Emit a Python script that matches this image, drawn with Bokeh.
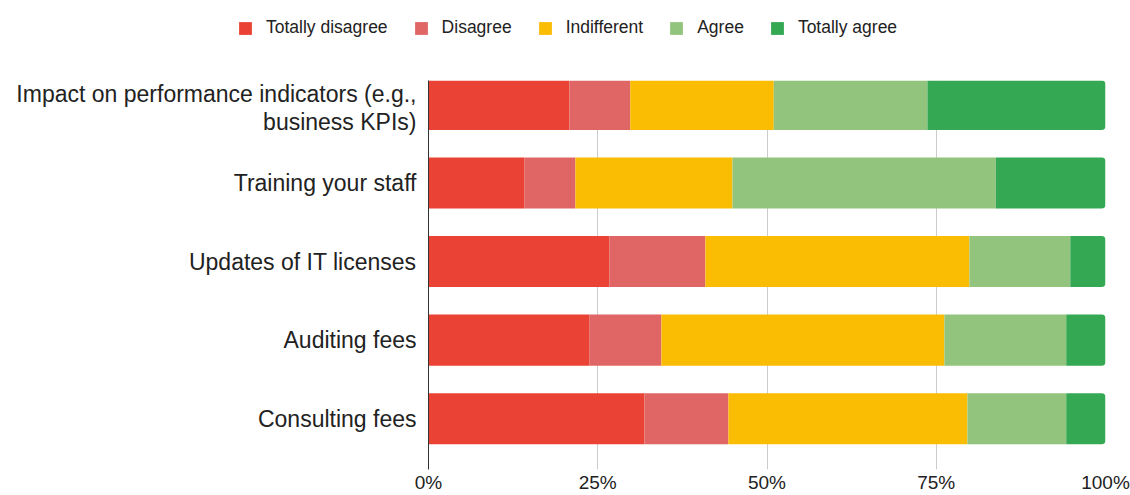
from bokeh.plotting import figure
from bokeh.models import ColumnDataSource, Range1d, FixedTicker, Legend, LegendItem
from bokeh.embed import file_html
from bokeh.resources import INLINE

categories = ["Impact on performance indicators (e.g.,\nbusiness KPIs)",
              "Training your staff",
              "Updates of IT licenses",
              "Auditing fees",
              "Consulting fees"]
series_names = ["Totally disagree", "Disagree", "Indifferent", "Agree", "Totally agree"]
totally_disagree = [20.8, 14.2, 26.7, 23.8, 31.9]
disagree = [9.0, 7.5, 14.2, 10.6, 12.4]
indifferent = [21.2, 23.2, 39.0, 41.8, 35.3]
agree = [22.7, 38.9, 14.9, 18.0, 14.6]
totally_agree = [26.3, 16.2, 5.2, 5.8, 5.8]
x_ticks = [0, 25, 50, 75, 100]
x_tick_labels = ["0%", "25%", "50%", "75%", "100%"]

colors = ["#EA4335", "#E06666", "#FBBC04", "#93C47D", "#34A853"]
FONT = "Liberation Sans"

ypos = list(range(len(categories)))
series = [totally_disagree, disagree, indifferent, agree, totally_agree]

# ---- legend strip (top), its frame covers the whole strip ----
leg = figure(width=1130, height=80, output_backend="svg", toolbar_location=None,
             x_range=Range1d(0, 100), y_range=Range1d(50, 51),
             x_axis_type=None, y_axis_type=None,
             min_border_left=0, min_border_right=0, min_border_top=0,
             min_border_bottom=0)
leg.outline_line_color = None
leg.xgrid.visible = False
leg.ygrid.visible = False

# ---- main chart ----
p = figure(width=1130, height=415, output_backend="svg", toolbar_location=None,
           x_range=Range1d(0, 100), y_range=Range1d(4.646, -0.304),
           min_border_left=428, min_border_right=25, min_border_top=0,
           min_border_bottom=0)
p.outline_line_color = None

items = []
left = [0.0] * len(categories)
for i, (name, vals) in enumerate(zip(series_names, series)):
    right = [l + v for l, v in zip(left, vals)]
    src = ColumnDataSource(dict(y=ypos, left=left, right=right))
    kw = {}
    if i == len(series) - 1:
        kw["border_radius"] = (0, 4, 4, 0)
    p.hbar(y="y", left="left", right="right", height=0.65, source=src,
           fill_color=colors[i], line_color=None, **kw)
    # legend proxy in the strip (its data lies outside the strip's range)
    lr = leg.hbar(y="y", left="left", right="right", height=0.65, source=src,
                  fill_color=colors[i], line_color=None)
    items.append(LegendItem(label=name, renderers=[lr]))
    left = right

# x axis
p.xaxis.ticker = FixedTicker(ticks=x_ticks)
p.xaxis.major_label_overrides = {t: l for t, l in zip(x_ticks, x_tick_labels)}
p.xaxis.axis_line_color = None
p.xaxis.major_tick_line_color = None
p.xaxis.major_tick_out = 0
p.xaxis.major_tick_in = 0
p.xaxis.minor_tick_line_color = None
p.xaxis.major_label_text_font = FONT
p.xaxis.major_label_text_font_size = "19px"
p.xaxis.major_label_text_color = "#222222"
p.xaxis.major_label_standoff = 2

# y axis
p.yaxis.ticker = FixedTicker(ticks=ypos)
p.yaxis.major_label_overrides = {y: c for y, c in zip(ypos, categories)}
p.yaxis.axis_line_color = "#333333"
p.yaxis.axis_line_width = 1
p.yaxis.major_tick_line_color = None
p.yaxis.major_tick_out = 0
p.yaxis.major_tick_in = 0
p.yaxis.minor_tick_line_color = None
p.yaxis.major_label_text_font = FONT
p.yaxis.major_label_text_font_size = "23px"
p.yaxis.major_label_text_line_height = 1.1
p.yaxis.major_label_text_color = "#222222"
p.yaxis.major_label_standoff = 12

p.ygrid.grid_line_color = None
p.xgrid.ticker = FixedTicker(ticks=[25, 50, 75, 100])
p.xgrid.grid_line_color = "#cccccc"
p.xgrid.grid_line_width = 1

legend = Legend(items=items, orientation="horizontal", location=(237, 42),
                label_text_font=FONT, label_text_font_size="17.5px",
                label_text_color="#222222",
                glyph_width=16, glyph_height=16, label_height=16,
                label_standoff=13, spacing=25,
                padding=0, margin=0, border_line_color=None,
                background_fill_alpha=0)
leg.add_layout(legend)

open("out.html", "w").write(file_html([leg, p], INLINE))
